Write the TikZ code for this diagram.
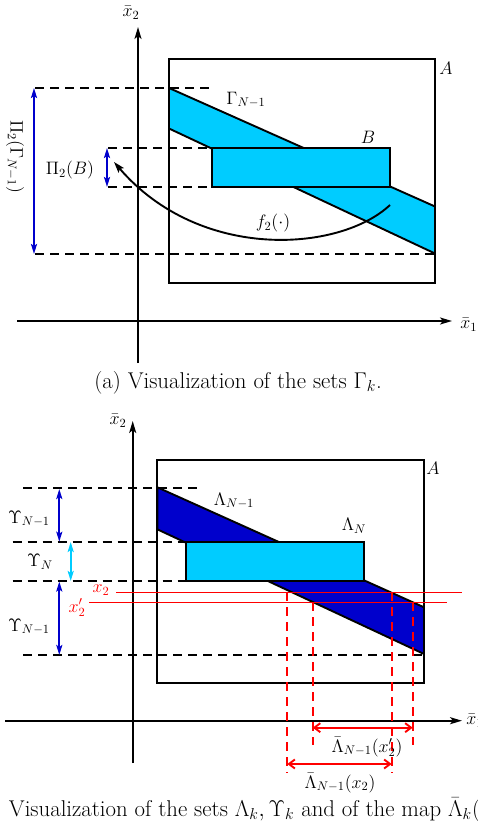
\documentclass[tikz,border=0pt]{standalone}
\usetikzlibrary{arrows.meta}
\definecolor{cy}{RGB}{0,204,255}
\definecolor{db}{RGB}{0,0,204}
\definecolor{rd}{RGB}{255,0,0}
\begin{document}
\begin{tikzpicture}[x=1pt,y=-1pt,
  ln/.style={line width=1.9pt},
  dsh/.style={line width=1.9pt, dash pattern=on 9pt off 6pt},
  ax/.style={line width=1.9pt,-{Stealth[length=12pt,width=7pt,inset=3pt]}},
  dbl/.style={line width=1.9pt,{Stealth[length=10pt,width=6pt,inset=2pt]}-{Stealth[length=10pt,width=6pt,inset=2pt]}},
  rdbl/.style={line width=1.9pt,rd,{Straight Barb[length=6pt,width=9pt]}-{Straight Barb[length=6pt,width=9pt]}},
  rdash/.style={line width=1.9pt,rd,dash pattern=on 9pt off 6pt},
  lbl/.style={font=\Large, scale=1.25, inner sep=0pt},
  captext/.style={font=\LARGE, scale=1.32, inner sep=0pt},
]
\useasboundingbox (0,0) rectangle (477,829);

%% ---------------- panel (a) ----------------
\coordinate (ya0) at (138,363);
\coordinate (ya1) at (138,27);
\coordinate (xa0) at (17,321);
\coordinate (xa1) at (452,321);
\draw[ax] (ya0) -- (ya1);
\draw[ax] (xa0) -- (xa1);
\node[lbl] (x2a) at (131,13) {$\bar{x}_2$};
\node[lbl, anchor=west] (x1a) at (460,325) {$\bar{x}_1$};

% dashed projections
\coordinate (da1) at (35,88);   \coordinate (da2) at (210,88);
\coordinate (da3) at (108,148); \coordinate (da4) at (212,148);
\coordinate (da5) at (108,187); \coordinate (da6) at (212,187);
\coordinate (da7) at (35,254);  \coordinate (da8) at (435,254);
\draw[dsh] (da1) -- (da2);
\draw[dsh] (da3) -- (da4);
\draw[dsh] (da5) -- (da6);
\draw[dsh] (da7) -- (da8);

% box A
\coordinate (Aa1) at (169,59); \coordinate (Aa2) at (435,283);
\draw[ln] (Aa1) rectangle (Aa2);
\node[lbl] (Alab) at (446,68) {$A$};

% Gamma parallelogram
\coordinate (G1) at (169,88);
\coordinate (G2) at (435,206.5);
\coordinate (G3) at (435,253.5);
\coordinate (G4) at (169,128.5);
\draw[ln, fill=cy] (G1) -- (G2) -- (G3) -- (G4) -- cycle;
% B rectangle
\coordinate (B1) at (212.3,148); \coordinate (B2) at (390,187);
\draw[ln, fill=cy] (B1) rectangle (B2);
\node[lbl] (Blab) at (368,137) {$B$};
\node[lbl] (Glab) at (246,100) {$\Gamma_{N-1}$};

% projection arrows
\coordinate (pa1) at (34,88);  \coordinate (pa2) at (34,254);
\coordinate (pb1) at (107,148); \coordinate (pb2) at (107,187);
\draw[dbl, db] (pa1) -- (pa2);
\draw[dbl, db] (pb1) -- (pb2);
\node[lbl, rotate=-90] (PiG) at (15,157) {$\Pi_2(\Gamma_{N-1})$};
\node[lbl] (PiB) at (70,170) {$\Pi_2(B)$};

% f2 map
\coordinate (f0) at (390,205);
\coordinate (f1) at (114,162);
\draw[line width=1.9pt,-{Stealth[length=11pt,width=7pt,inset=2pt]}] (f0) .. controls (340,252) and (200,262) .. (f1);
\node[lbl] (flab) at (273,223) {$f_2(\cdot)$};

\node[captext, anchor=base] (capa) at (238,388) {(a) Visualization of the sets $\Gamma_k$.};

%% ---------------- panel (b) ----------------
\coordinate (yb0) at (132.7,763);
\coordinate (yb1) at (132.7,421);
\coordinate (xb0) at (5,720.7);
\coordinate (xb1) at (462,720.7);
\draw[ax] (yb0) -- (yb1);
\draw[ax] (xb0) -- (xb1);
\node[lbl] (x2b) at (118,421) {$\bar{x}_2$};
\node[lbl, anchor=west] (x1b) at (466,721) {$\bar{x}_1$};

% dashed
\coordinate (db1) at (23,488);   \coordinate (db2) at (200,488);
\coordinate (db3) at (12.7,542); \coordinate (db4) at (185.7,542);
\coordinate (db5) at (12.7,581); \coordinate (db6) at (185.7,581);
\coordinate (db7) at (23.3,655); \coordinate (db8) at (424,655);
\draw[dsh] (db1) -- (db2);
\draw[dsh] (db3) -- (db4);
\draw[dsh] (db5) -- (db6);
\draw[dsh] (db7) -- (db8);

% box A
\coordinate (Ab1) at (157.3,460); \coordinate (Ab2) at (424,683.3);
\draw[ln] (Ab1) rectangle (Ab2);
\node[lbl] (Alabb) at (433,468) {$A$};

% Lambda_{N-1}
\coordinate (L1) at (157.3,487.3);
\coordinate (L2) at (424,607.3);
\coordinate (L3) at (424,654);
\coordinate (L4) at (157.3,529.3);
\draw[ln, fill=db] (L1) -- (L2) -- (L3) -- (L4) -- cycle;
% Lambda_N
\coordinate (M1) at (185.7,542); \coordinate (M2) at (364,581);
\draw[ln, fill=cy] (M1) rectangle (M2);
\node[lbl] (LNlab) at (354,526) {$\Lambda_N$};
\node[lbl] (LN1lab) at (234,501) {$\Lambda_{N-1}$};

% Upsilon arrows
\coordinate (u1) at (59.3,489); \coordinate (u2) at (59.3,541.7);
\coordinate (u3) at (70.7,542); \coordinate (u4) at (70.7,581);
\coordinate (u5) at (59.3,581.5); \coordinate (u6) at (59.3,655);
\draw[dbl, db] (u1) -- (u2);
\draw[dbl, cy] (u3) -- (u4);
\draw[dbl, db] (u5) -- (u6);
\node[lbl] (U1) at (29,519) {$\Upsilon_{N-1}$};
\node[lbl] (U2) at (40,562) {$\Upsilon_{N}$};
\node[lbl] (U3) at (29,627) {$\Upsilon_{N-1}$};

% red lines
\coordinate (r1) at (116,592.3);  \coordinate (r2) at (461.7,592.3);
\coordinate (r3) at (89.3,602.3); \coordinate (r4) at (446.7,602.3);
\draw[line width=1.2pt, rd] (r1) -- (r2);
\draw[line width=1.2pt, rd] (r3) -- (r4);
\node[lbl, text=rd] (x2r) at (101,590) {$x_2$};
\node[lbl, text=rd] (x2pr) at (77,608) {$x_2'$};

% red dashed verticals
\coordinate (v1a) at (287.3,592.3); \coordinate (v1b) at (287.3,773.3);
\coordinate (v2a) at (312.7,602.3); \coordinate (v2b) at (312.7,745);
\coordinate (v3a) at (391.7,592.3); \coordinate (v3b) at (391.7,773.3);
\coordinate (v4a) at (412.7,602.3); \coordinate (v4b) at (412.7,745);
\draw[rdash] (v1a) -- (v1b);
\draw[rdash] (v2a) -- (v2b);
\draw[rdash] (v3a) -- (v3b);
\draw[rdash] (v4a) -- (v4b);

% red double arrows
\coordinate (h1a) at (312.7,727.7); \coordinate (h1b) at (412.7,727.7);
\coordinate (h2a) at (287.3,764);   \coordinate (h2b) at (391.7,764);
\draw[rdbl] (h1a) -- (h1b);
\draw[rdbl] (h2a) -- (h2b);
\node[lbl] (lb1) at (367,747) {$\bar{\Lambda}_{N-1}(x_2')$};
\node[lbl] (lb2) at (340,783) {$\bar{\Lambda}_{N-1}(x_2)$};

\node[captext, anchor=base west] (capb) at (-26,816.5) {(b) Visualization of the sets $\Lambda_k, \Upsilon_k$ and of the map $\bar{\Lambda}_k(x_2)$.};
\end{tikzpicture}
\end{document}
